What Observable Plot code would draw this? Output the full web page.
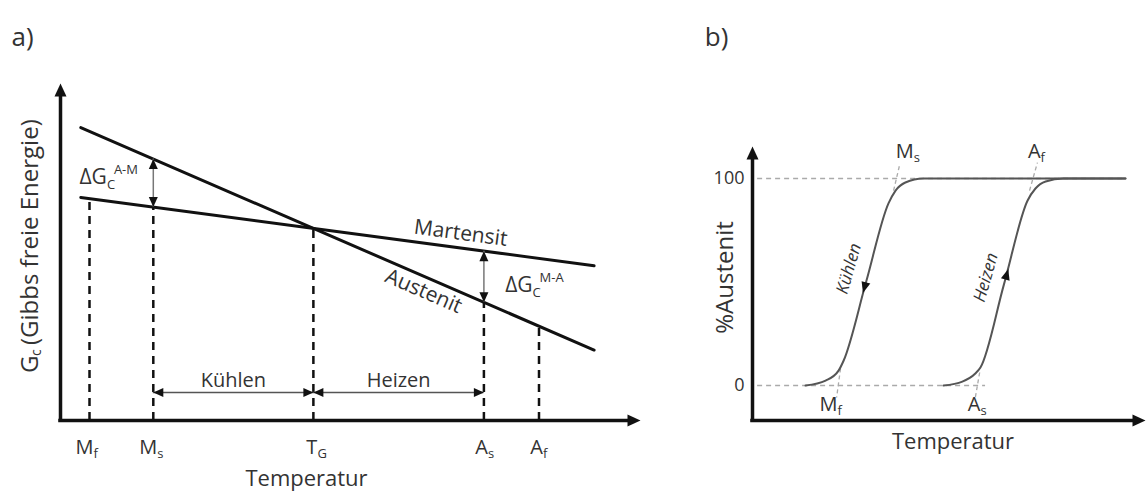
<!DOCTYPE html>
<html><head><meta charset="utf-8">
<script src="https://cdn.jsdelivr.net/npm/d3@7"></script>
<script src="https://cdn.jsdelivr.net/npm/@observablehq/plot@0.6"></script>
<style>
body{margin:0;background:#fff;}
#wrap{position:relative;width:1146px;height:493px;overflow:hidden;background:#fff;}
#pa{position:absolute;left:0;top:0;}
#pb{position:absolute;left:680px;top:0;}
</style></head><body><div id="wrap"><div id="pa"></div><div id="pb"></div></div>
<script>
// ===================== DATA =====================
// Panel a) Gibbs free energy vs temperature
const transitionKeysA = ["Mf", "Ms", "TG", "As", "Af"];
const transitionMainA = ["M", "M", "T", "A", "A"];
const transitionSubA  = ["f", "s", "G", "s", "f"];
const transitionTempA = [5.0, 16.0, 43.6, 73.0, 82.5];

const austenitT  = [3.5, 92.0];
const austenitG  = [86.9, 20.9];
const martensitT = [3.5, 92.0];
const martensitG = [66.2, 45.9];

const deltaAtKeys   = ["Ms", "As"];
const deltaMain     = ["ΔG", "ΔG"];
const deltaSub      = ["C", "C"];
const deltaSup      = ["A-M", "M-A"];
const deltaLabelT   = [8.0, 81.4];
const deltaLabelG   = [72.1, 40.1];

const phaseNames = ["Kühlen", "Heizen"];
const phaseFrom  = ["Ms", "TG"];
const phaseTo    = ["TG", "As"];
const phaseLevelG = 8.3;

const lineLabelText = ["Martensit", "Austenit"];
const lineLabelT    = [69.0, 62.6];

// Panel b) % Austenit vs temperature
const coolingT = [13.5, 18.6, 21.9, 23.2, 28.9, 34.6, 36.4, 38.9, 43.5, 94.9];
const coolingP = [0, 2.4, 7.2, 12.1, 50.0, 88.0, 94.2, 98.1, 100, 100];
const heatingT = [48.6, 53.4, 56.7, 58.0, 64.0, 70.0, 72.0, 74.6, 79.1, 94.9];
const heatingP = [0, 1.9, 5.8, 8.7, 49.0, 89.4, 95.2, 98.6, 100, 100];

const levelP  = [0, 100];
const levelT1 = [1.3, 1.3];
const levelT2 = [59.3, 94.9];

const yTickValuesB = [0, 100];
const yTickLabelsB = ["0", "100"];

const guideT1 = [35.9, 70.5, 22.4, 57.8];
const guideP1 = [94.2, 94.2, 8.2, 6.3];
const guideT2 = [37.4, 72.5, 21.4, 56.7];
const guideP2 = [106.3, 107.7, -5.8, -5.8];

const transitionMainB = ["M", "A", "M", "A"];
const transitionSubB  = ["s", "f", "f", "s"];
const transitionTempB = [41.0, 73.3, 21.6, 58.0];
const transitionPctB  = [113, 113, -9.2, -9.2];

// ===================== HELPERS =====================
const FONT = '"Open Sans", sans-serif';
const INK = "#111";
const TXT = "#333";
const arrowHead = {
  draw(context, l, r) {
    context.moveTo(-r, 0);
    context.lineTo(0, -l);
    context.lineTo(r, 0);
    context.closePath();
  }
};
const lerp = (T, V, t) => V[0] + (V[1] - V[0]) * (t - T[0]) / (T[1] - T[0]);
function textAngle(sx, sy, t1, v1, t2, v2) {
  return Math.atan2(sy.apply(v2) - sy.apply(v1), sx.apply(t2) - sx.apply(t1)) * 180 / Math.PI;
}
function headAngle(sx, sy, t1, v1, t2, v2) {
  const dx = sx.apply(t2) - sx.apply(t1), dy = sy.apply(v2) - sy.apply(v1);
  return Math.atan2(dx, -dy) * 180 / Math.PI;
}
const heads = (data, o = {}) => Plot.vector(data, {
  x: "x", y: "y", rotate: "rot", anchor: "end", shape: arrowHead,
  length: o.length ?? 12, r: o.r ?? 5, fill: o.fill ?? INK, stroke: "none"
});
const T_MID = {textAnchor: "middle", lineAnchor: "middle", fill: TXT};

// ===================== PANEL A =====================
const xA = {domain: [0, 100], range: [60, 640]};
const yA = {domain: [0, 100], range: [420, 83]};
const sxA = Plot.scale({x: xA}), syA = Plot.scale({y: yA});
const gAus = t => lerp(austenitT, austenitG, t);
const gMar = t => lerp(martensitT, martensitG, t);
const tempOf = k => transitionTempA[transitionKeysA.indexOf(k)];

const transitionsA = transitionKeysA.map((k, i) => ({
  key: k, main: transitionMainA[i], sub: transitionSubA[i], T: transitionTempA[i],
  top: Math.min(gAus(transitionTempA[i]), gMar(transitionTempA[i]))
}));
const austenitPts  = austenitT.map((t, i) => ({T: t, G: austenitG[i]}));
const martensitPts = martensitT.map((t, i) => ({T: t, G: martensitG[i]}));

const deltas = deltaAtKeys.map((k, i) => {
  const T = tempOf(k), a = gAus(T), m = gMar(T);
  return {T, lo: Math.min(a, m), hi: Math.max(a, m), main: deltaMain[i], sub: deltaSub[i], sup: deltaSup[i], lT: deltaLabelT[i], lG: deltaLabelG[i]};
});
const deltaHeads = deltas.flatMap(d => [{x: d.T, y: d.hi, rot: 0}, {x: d.T, y: d.lo, rot: 180}]);

const phases = phaseNames.map((n, i) => ({name: n, from: tempOf(phaseFrom[i]), to: tempOf(phaseTo[i])}));
const phaseHeads = phases.flatMap(p => [{x: p.from, y: phaseLevelG, rot: 270}, {x: p.to, y: phaseLevelG, rot: 90}]);

const angMar = textAngle(sxA, syA, martensitT[0], martensitG[0], martensitT[1], martensitG[1]);
const angAus = textAngle(sxA, syA, austenitT[0], austenitG[0], austenitT[1], austenitG[1]);
const marLabel = [{text: lineLabelText[0], T: lineLabelT[0], G: gMar(lineLabelT[0])}];
const ausLabel = [{text: lineLabelText[1], T: lineLabelT[1], G: gAus(lineLabelT[1])}];

const axisHeadsA = [{x: xA.domain[0], y: yA.domain[1], rot: 0}, {x: xA.domain[1], y: yA.domain[0], rot: 90}];

const chartA = Plot.plot({
  width: 660, height: 493,
  marginLeft: 60, marginRight: 20, marginTop: 83, marginBottom: 73,
  x: {...xA, axis: null},
  y: {...yA, axis: null},
  style: {fontFamily: FONT, overflow: "visible", background: "transparent"},
  marks: [
    // dashed verticals
    Plot.ruleX(transitionsA, {x: "T", y1: 0, y2: "top", stroke: INK, strokeWidth: 2.5, strokeDasharray: "8,6"}),
    // energy lines
    Plot.line(austenitPts, {x: "T", y: "G", stroke: INK, strokeWidth: 3}),
    Plot.line(martensitPts, {x: "T", y: "G", stroke: INK, strokeWidth: 3}),
    // delta G arrows
    Plot.ruleX(deltas, {x: "T", y1: "lo", y2: "hi", stroke: "#777", strokeWidth: 1.5}),
    heads(deltaHeads, {length: 10, r: 4.5}),
    // Kühlen / Heizen arrows
    Plot.ruleY(phases, {y: phaseLevelG, x1: "from", x2: "to", stroke: "#555", strokeWidth: 1.5}),
    heads(phaseHeads, {length: 10, r: 4.5}),
    Plot.text(phases, {x: d => (d.from + d.to) / 2, y: phaseLevelG, text: "name", dy: -12, fontSize: 20, ...T_MID}),
    // axes
    Plot.ruleX([xA.domain[0]], {stroke: INK, strokeWidth: 3.5, insetTop: 8, strokeLinecap: "square"}),
    Plot.ruleY([yA.domain[0]], {stroke: INK, strokeWidth: 3.5, insetRight: 8, strokeLinecap: "square"}),
    heads(axisHeadsA, {length: 13, r: 6}),
    // tick labels
    Plot.text(transitionsA, {x: "T", text: "main", frameAnchor: "bottom", dx: 4, dy: 27, ...T_MID, textAnchor: "end", fontSize: 20}),
    Plot.text(transitionsA, {x: "T", text: "sub", frameAnchor: "bottom", dx: 4, dy: 33, ...T_MID, textAnchor: "start", fontSize: 13}),
    // line labels
    Plot.text(marLabel, {x: "T", y: "G", text: "text", rotate: angMar, dy: -15, fontSize: 21, ...T_MID}),
    Plot.text(ausLabel, {x: "T", y: "G", text: "text", rotate: angAus, dy: 15, fontSize: 21, ...T_MID}),
    // delta labels
    Plot.text(deltas, {x: "lT", y: "lG", text: "main", ...T_MID, textAnchor: "end", fontSize: 21}),
    Plot.text(deltas, {x: "lT", y: "lG", text: "sub", ...T_MID, textAnchor: "start", dy: 7, fontSize: 13}),
    Plot.text(deltas, {x: "lT", y: "lG", text: "sup", ...T_MID, textAnchor: "start", dx: 7, dy: -8, fontSize: 13}),
    // axis titles
    Plot.text(["G"], {frameAnchor: "left", dx: -30, dy: 121, rotate: -90, ...T_MID, textAnchor: "start", fontSize: 24}),
    Plot.text(["c"], {frameAnchor: "left", dx: -24, dy: 104, rotate: -90, ...T_MID, textAnchor: "start", fontSize: 14}),
    Plot.text(["(Gibbs freie Energie)"], {frameAnchor: "left", dx: -30, dy: 93, rotate: -90, ...T_MID, textAnchor: "start", fontSize: 24}),
    Plot.text(["Temperatur"], {frameAnchor: "bottom", dx: -44, dy: 58, fontSize: 22, ...T_MID}),
    Plot.text(["a)"], {frameAnchor: "top-left", dx: -38, dy: -46, fontSize: 26, ...T_MID})
  ]
});
document.getElementById("pa").appendChild(chartA);

// ===================== PANEL B =====================
const xB = {domain: [0, 100], range: [72, 465]};
const yB = {domain: [-16.9, 115.5], range: [420, 146]};
const sxB = Plot.scale({x: xB}), syB = Plot.scale({y: yB});

const coolingPts = coolingT.map((t, i) => ({T: t, P: coolingP[i]}));
const heatingPts = heatingT.map((t, i) => ({T: t, P: heatingP[i]}));
const levels = levelP.map((p, i) => ({P: p, T1: levelT1[i], T2: levelT2[i]}));
const guides = guideT1.map((t, i) => ({T1: t, P1: guideP1[i], T2: guideT2[i], P2: guideP2[i]}));
const transitionsB = transitionMainB.map((m, i) => ({main: m, sub: transitionSubB[i], T: transitionTempB[i], P: transitionPctB[i]}));
const yTicksB = yTickValuesB.map((v, i) => ({P: v, label: yTickLabelsB[i]}));

// steep segments (lower knee index 3 -> upper knee index 5)
const seg = (Ts, Ps) => ({t1: Ts[3], p1: Ps[3], t2: Ts[5], p2: Ps[5]});
const at = (s, f) => ({T: s.t1 + (s.t2 - s.t1) * f, P: s.p1 + (s.p2 - s.p1) * f});
const cSeg = seg(coolingT, coolingP), hSeg = seg(heatingT, heatingP);
const cHead = at(cSeg, 0.43), hHead = at(hSeg, 0.59);
const curveHeads = [
  {x: cHead.T, y: cHead.P, rot: headAngle(sxB, syB, cSeg.t2, cSeg.p2, cSeg.t1, cSeg.p1)},
  {x: hHead.T, y: hHead.P, rot: headAngle(sxB, syB, hSeg.t1, hSeg.p1, hSeg.t2, hSeg.p2)}
];
const cTxt = at(cSeg, 0.585), hTxt = at(hSeg, 0.539);
const coolLabel = [{text: "Kühlen", T: cTxt.T, P: cTxt.P}];
const heatLabel = [{text: "Heizen", T: hTxt.T, P: hTxt.P}];
const angSteepC = textAngle(sxB, syB, cSeg.t1, cSeg.p1, cSeg.t2, cSeg.p2);
const angSteepH = textAngle(sxB, syB, hSeg.t1, hSeg.p1, hSeg.t2, hSeg.p2);
const axisHeadsB = [{x: xB.domain[0], y: yB.domain[1], rot: 0}, {x: xB.domain[1], y: yB.domain[0], rot: 90}];

const chartB = Plot.plot({
  width: 466, height: 493,
  marginLeft: 72, marginRight: 1, marginTop: 146, marginBottom: 73,
  x: {...xB, axis: null},
  y: {...yB, axis: null},
  style: {fontFamily: FONT, overflow: "visible", background: "transparent"},
  marks: [
    Plot.ruleY(levels, {y: "P", x1: "T1", x2: "T2", stroke: "#aaa", strokeWidth: 1.5, strokeDasharray: "5,4"}),
    Plot.link(guides, {x1: "T1", y1: "P1", x2: "T2", y2: "P2", stroke: "#aaa", strokeWidth: 1.3, strokeDasharray: "4,3"}),
    Plot.line(coolingPts, {x: "T", y: "P", curve: "monotone-x", stroke: "#555", strokeWidth: 2}),
    Plot.line(heatingPts, {x: "T", y: "P", curve: "monotone-x", stroke: "#555", strokeWidth: 2}),
    heads(curveHeads, {length: 11, r: 4.5}),
    Plot.text(coolLabel, {x: "T", y: "P", text: "text", rotate: angSteepC, dx: -21, fontSize: 17, fontStyle: "italic", ...T_MID}),
    Plot.text(heatLabel, {x: "T", y: "P", text: "text", rotate: angSteepH, dx: -20, fontSize: 17, fontStyle: "italic", ...T_MID}),
    // axes
    Plot.ruleX([xB.domain[0]], {stroke: INK, strokeWidth: 3.5, insetTop: 8, strokeLinecap: "square"}),
    Plot.ruleY([yB.domain[0]], {stroke: INK, strokeWidth: 3.5, insetRight: 8, strokeLinecap: "square"}),
    heads(axisHeadsB, {length: 13, r: 6}),
    // y tick labels
    Plot.text(yTicksB, {x: xB.domain[0], y: "P", text: "label", dx: -8, ...T_MID, textAnchor: "end", fontSize: 18}),
    // transition labels
    Plot.text(transitionsB, {x: "T", y: "P", text: "main", ...T_MID, textAnchor: "end", fontSize: 20}),
    Plot.text(transitionsB, {x: "T", y: "P", text: "sub", ...T_MID, textAnchor: "start", dy: 6, fontSize: 13}),
    // titles
    Plot.text(["%Austenit"], {frameAnchor: "left", dx: -27, dy: -6, rotate: -90, fontSize: 24, ...T_MID}),
    Plot.text(["Temperatur"], {frameAnchor: "bottom", dx: 4, dy: 21, fontSize: 22, ...T_MID}),
    Plot.text(["b)"], {frameAnchor: "top-left", dx: -36, dy: -109, fontSize: 26, ...T_MID})
  ]
});
document.getElementById("pb").appendChild(chartB);
</script>
</body></html>
